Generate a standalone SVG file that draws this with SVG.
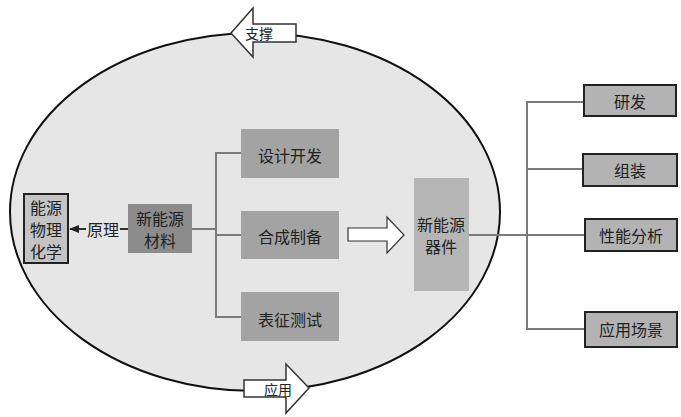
<svg xmlns="http://www.w3.org/2000/svg" width="681" height="417" viewBox="0 0 681 417">
<defs>
<style>
text{font-family:"Noto Sans CJK SC","Noto Sans",sans-serif;fill:#222;text-anchor:middle;dominant-baseline:central}
.t{font-size:16px}
.s{font-size:14px}
.conn{stroke:#7a7a7a;stroke-width:2;fill:none}
.mid{fill:#a3a3a3}
.rb{fill:#b3b3b3;stroke:#222;stroke-width:2}
.big{fill:#fff;stroke:#333;stroke-width:1.5}
</style>
<marker id="ah" markerWidth="10" markerHeight="8" refX="9" refY="4" orient="auto" markerUnits="userSpaceOnUse">
<path d="M0,0 L10,4 L0,8 Z" fill="#222"/>
</marker>
</defs>
<rect width="681" height="417" fill="#fff"/>
<ellipse cx="255" cy="212" rx="245" ry="179" fill="#e6e6e6" stroke="#111" stroke-width="2"/>
<g id="connectors">
<line class="conn" x1="128" y1="229" x2="70" y2="229" marker-end="url(#ah)" style="stroke:#333"/>
<polyline class="conn" points="192,229 216,229"/>
<polyline class="conn" points="241,153 216,153 216,317 241,317"/>
<line class="conn" x1="216" y1="235" x2="241" y2="235"/>
<line class="conn" x1="469" y1="235" x2="585" y2="235"/>
<polyline class="conn" points="584,102 527,102 527,329 585,329"/>
<line class="conn" x1="527" y1="169" x2="583" y2="169"/>
<rect x="86" y="220" width="34" height="18" fill="#e6e6e6"/>
<text class="t" x="103" y="229">原理</text>
</g>
<g id="support">
<path class="big" d="M231,33 L253,8 L253,24 L296,24 L296,42 L253,42 L253,57 Z"/>
<text class="s" x="259" y="33">支撑</text>
</g>
<g id="apply">
<path class="big" d="M244,380 L286,380 L286,364 L309,388 L286,413 L286,397 L244,397 Z"/>
<text class="s" x="278" y="389">应用</text>
</g>
<g id="phys">
<rect x="24" y="194" width="44" height="69" fill="#c4c4c4" stroke="#222" stroke-width="2"/>
<text class="t" x="46" y="207">能源</text>
<text class="t" x="46" y="229">物理</text>
<text class="t" x="46" y="251">化学</text>
</g>
<g id="material">
<rect x="128" y="204" width="64" height="49" fill="#8c8c8c"/>
<text class="t" x="160" y="217.5">新能源</text>
<text class="t" x="160" y="239.5">材料</text>
</g>
<g id="design">
<rect class="mid" x="241" y="129" width="98" height="49"/>
<text class="t" x="290" y="155">设计开发</text>
</g>
<g id="synth">
<rect class="mid" x="241" y="211" width="98" height="48"/>
<text class="t" x="290" y="236">合成制备</text>
</g>
<g id="charac">
<rect class="mid" x="241" y="292" width="98" height="49"/>
<text class="t" x="290" y="319">表征测试</text>
</g>
<g id="bigarrow">
<path class="big" d="M348,228 L387,228 L387,217 L404,235 L387,253 L387,241 L348,241 Z" style="stroke-width:1.2"/>
</g>
<g id="device">
<rect x="414" y="178" width="55" height="113" fill="#b6b6b6"/>
<text class="t" x="441" y="224">新能源</text>
<text class="t" x="441" y="246">器件</text>
</g>
<g id="rd">
<rect class="rb" x="584" y="85" width="92" height="31"/>
<text class="t" x="630" y="101">研发</text>
</g>
<g id="assemble">
<rect class="rb" x="583" y="154" width="94" height="32"/>
<text class="t" x="630" y="170">组装</text>
</g>
<g id="perf">
<rect class="rb" x="585" y="219" width="92" height="32"/>
<text class="t" x="631" y="235">性能分析</text>
</g>
<g id="scene">
<rect class="rb" x="585" y="312" width="92" height="35"/>
<text class="t" x="631" y="329">应用场景</text>
</g>
</svg>
